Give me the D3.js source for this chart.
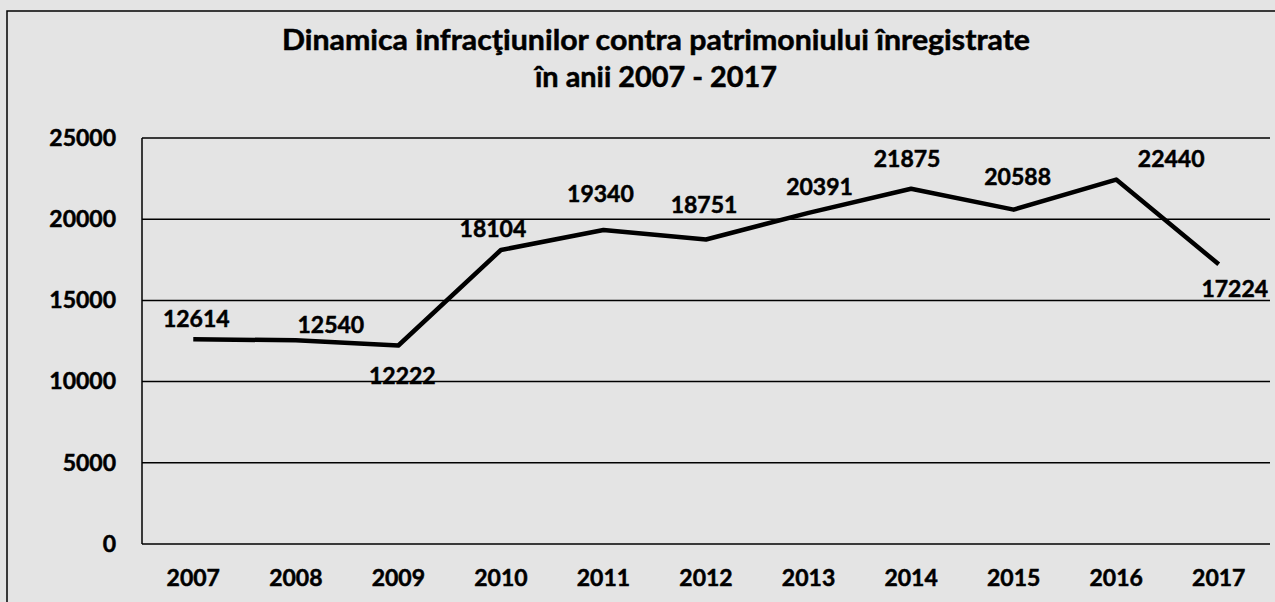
<!DOCTYPE html>
<html lang="ro">
<head>
<meta charset="UTF-8" />
<title>Dinamica infracţiunilor contra patrimoniului</title>
<script src="https://cdn.jsdelivr.net/npm/d3@7"></script>
<style>
body{margin:0;background:#fff;overflow:hidden}
svg{display:block}
text{font-family:Lato,"Open Sans",sans-serif;font-weight:700;fill:#000;stroke:#000;stroke-width:.5px}
</style>
</head>
<body>
<svg id="chart" width="1275" height="602"></svg>
<script>
/* ===== data ===== */
const years  = ['2007','2008','2009','2010','2011','2012','2013','2014','2015','2016','2017'];
const values = [12614,12540,12222,18104,19340,18751,20391,21875,20588,22440,17224];
const yTicks = [0,5000,10000,15000,20000,25000];
const titleLines = ['Dinamica infracţiunilor contra patrimoniului înregistrate','în anii 2007 - 2017'];
/* label nudges relative to each point (dx, baseline dy) */
const labelNudge = [[3,-12],[35,-7],[4,38],[-8,-13],[-3,-28],[-2,-26],[11,-18],[-4,-22],[4,-25],[55,-13],[16,33]];

const svg=d3.select('#chart'),W=+svg.attr('width'),H=+svg.attr('height');
const M={l:142,r:5,t:138,b:58};

/* background + frame */
svg.append('rect').attr('x',0).attr('y',0).attr('width',W).attr('height',H).attr('fill','#e4e4e4');
svg.append('path').attr('d',`M7,${H}V11H${W}`).attr('fill','none').attr('stroke','#000').attr('stroke-width',1.5);

/* title – stretched to the width it has in the scan */
const tw=[748,242];
svg.append('g').selectAll('text').data(titleLines).join('text')
  .attr('x',656).attr('y',(d,i)=>50+i*37).attr('text-anchor','middle')
  .attr('textLength',(d,i)=>tw[i]).attr('lengthAdjust','spacingAndGlyphs')
  .style('font-size','28px').text(d=>d);

const x=d3.scaleBand().domain(years).range([M.l,W-M.r]);
const y=d3.scaleLinear().domain([0,25000]).range([H-M.b,M.t]);
const cx=d=>x(d)+x.bandwidth()/2;

/* grid */
svg.append('g').selectAll('line').data(yTicks).join('line')
  .attr('x1',M.l).attr('x2',W-M.r).attr('y1',d=>y(d)).attr('y2',d=>y(d))
  .attr('stroke','#000').attr('stroke-width',1.5);
svg.append('line').attr('x1',M.l).attr('x2',M.l).attr('y1',y(25000)).attr('y2',y(0))
  .attr('stroke','#000').attr('stroke-width',1.5);

/* axes */
const ya=svg.append('g').attr('transform',`translate(${M.l},0)`)
  .call(d3.axisLeft(y).tickValues(yTicks).tickSize(0).tickPadding(26).tickFormat(d3.format('d')));
const xa=svg.append('g').attr('transform',`translate(0,${y(0)})`)
  .call(d3.axisBottom(x).tickSize(0).tickPadding(26));
[ya,xa].forEach(a=>{a.select('.domain').remove();a.selectAll('text').style('font-size','23px').attr('font-family',null)});

/* line */
const pts=years.map((k,i)=>({k,v:values[i]}));
svg.append('path').datum(pts).attr('fill','none').attr('stroke','#000').attr('stroke-width',4.5)
  .attr('stroke-linejoin','round')
  .attr('d',d3.line().x(d=>cx(d.k)).y(d=>y(d.v)));

/* data labels */
svg.append('g').selectAll('text').data(pts).join('text')
  .attr('x',(d,i)=>cx(d.k)+labelNudge[i][0]).attr('y',(d,i)=>y(d.v)+labelNudge[i][1])
  .attr('text-anchor','middle').style('font-size','23px').text(d=>d.v);
</script>
</body>
</html>
